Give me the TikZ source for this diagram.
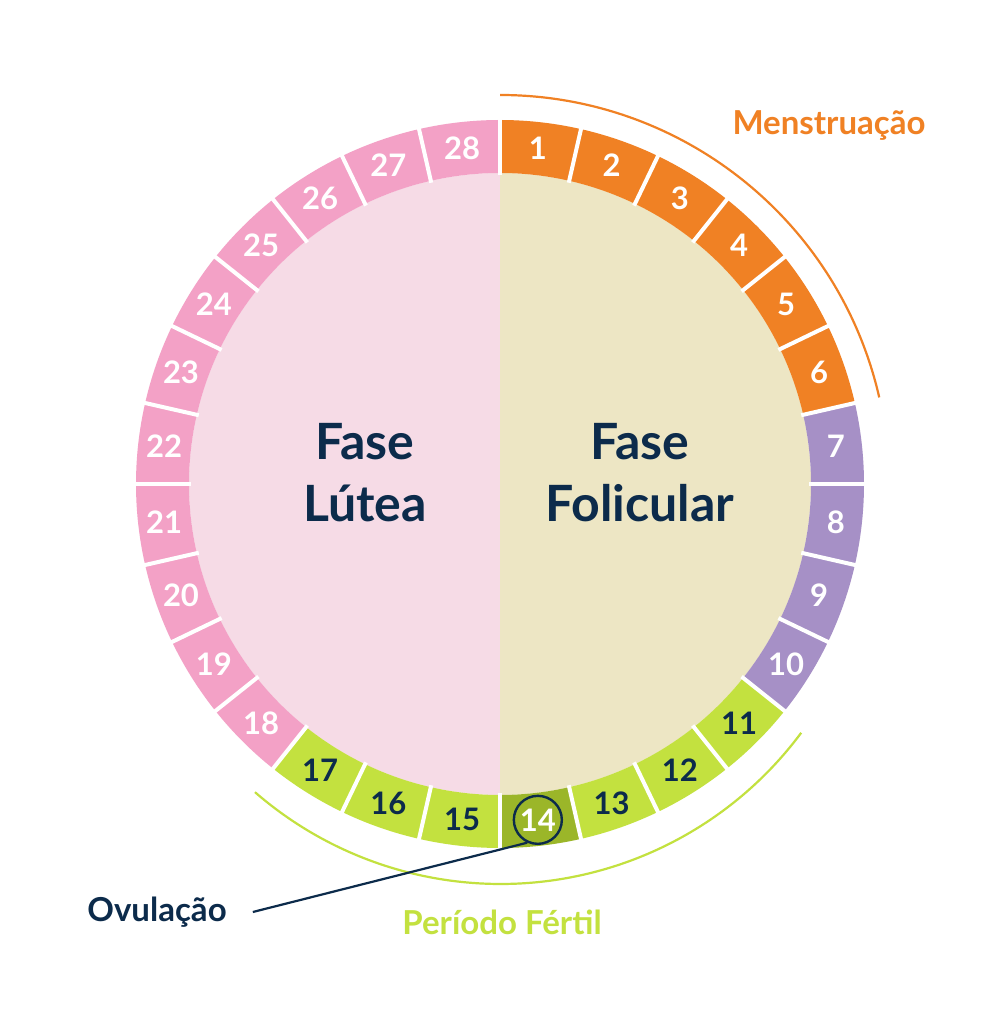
\documentclass[tikz,border=0pt]{standalone}
\usepackage{fontspec}
\setmainfont{Lato}
\definecolor{navy}{HTML}{0C2B4B}
\definecolor{mens}{HTML}{F08124}
\definecolor{lila}{HTML}{A690C6}
\definecolor{lime}{HTML}{C3E13F}
\definecolor{ovgreen}{HTML}{9BB629}
\definecolor{rosa}{HTML}{F3A1C6}
\definecolor{lutbg}{HTML}{F6DBE6}
\definecolor{folbg}{HTML}{EDE6C4}
\tikzset{
  num/.style={font=\fontsize{31}{31}\selectfont\bfseries, inner sep=0pt},
  phase/.style={font=\fontsize{50}{62}\selectfont\bfseries, text=navy, align=center, inner sep=0pt},
  lbl/.style={font=\fontsize{33}{33}\selectfont\bfseries, inner sep=0pt},
  sep/.style={white, line width=4pt},
  arcline/.style={line width=2.2pt}
}
\begin{document}
\begin{tikzpicture}[x=1pt,y=1pt]
\useasboundingbox[fill=white] (0,0) rectangle (1004,1024);
\coordinate (O) at (500,540);
\coordinate (F) at (500.6,514.4);
% inner halves
\fill[lutbg] ([shift={(90:311)}]O) arc (90:270:311) -- cycle;
\fill[folbg] ([shift={(90:311)}]O) arc (90:-90:311) -- cycle;
% ring segments
\foreach \i/\c/\t in {1/mens/white,2/mens/white,3/mens/white,4/mens/white,5/mens/white,6/mens/white,
  7/lila/white,8/lila/white,9/lila/white,10/lila/white,
  11/lime/navy,12/lime/navy,13/lime/navy,14/ovgreen/white,15/lime/navy,16/lime/navy,17/lime/navy,
  18/rosa/white,19/rosa/white,20/rosa/white,21/rosa/white,22/rosa/white,23/rosa/white,24/rosa/white,
  25/rosa/white,26/rosa/white,27/rosa/white,28/rosa/white} {
  \pgfmathsetmacro\aa{90-(\i-1)*360/28}
  \pgfmathsetmacro\ab{90-\i*360/28}
  \pgfmathsetmacro\am{90-(\i-0.5)*360/28}
  \fill[\c] ([shift={(\aa:364)}]O) arc (\aa:\ab:364) -- ([shift={(\ab:311)}]O) arc (\ab:\aa:311) -- cycle;
  \node[num, text=\t] (n\i) at ([shift={(\am:338)}]O) {\i};
}
\foreach \i in {1,...,28} {
  \pgfmathsetmacro\aa{90-\i*360/28}
  \draw[sep] ([shift={(\aa:309)}]O) -- ([shift={(\aa:367)}]O);
}
% ovulation circle
\node[draw=navy, circle, line width=2.4pt, minimum size=48pt, inner sep=0pt] (c14) at (n14) {};
% phase labels
\node[phase] (lutea) at (365,551) {Fase\\Lútea};
\node[phase] (folic) at (640,551) {Fase\\Folicular};
% arcs
\draw[arcline, mens] ([shift={(90:389)}]O) arc (90:12.86:389);
\draw[arcline, lime] ([shift={(-36.6:374.4)}]F) arc (-36.6:-131:374.4);
% outer labels
\node[lbl, text=mens] (menst) at (829,898) {Menstruação};
\node[lbl, text=lime] (fertil) at (502,102) {Período Fértil};
\node[lbl, text=navy] (ovul) at (157,112) {Ovulação};
\draw[navy, line width=2.2pt] ([xshift=26pt]ovul.east) -- (c14.245);
\end{tikzpicture}
\end{document}
